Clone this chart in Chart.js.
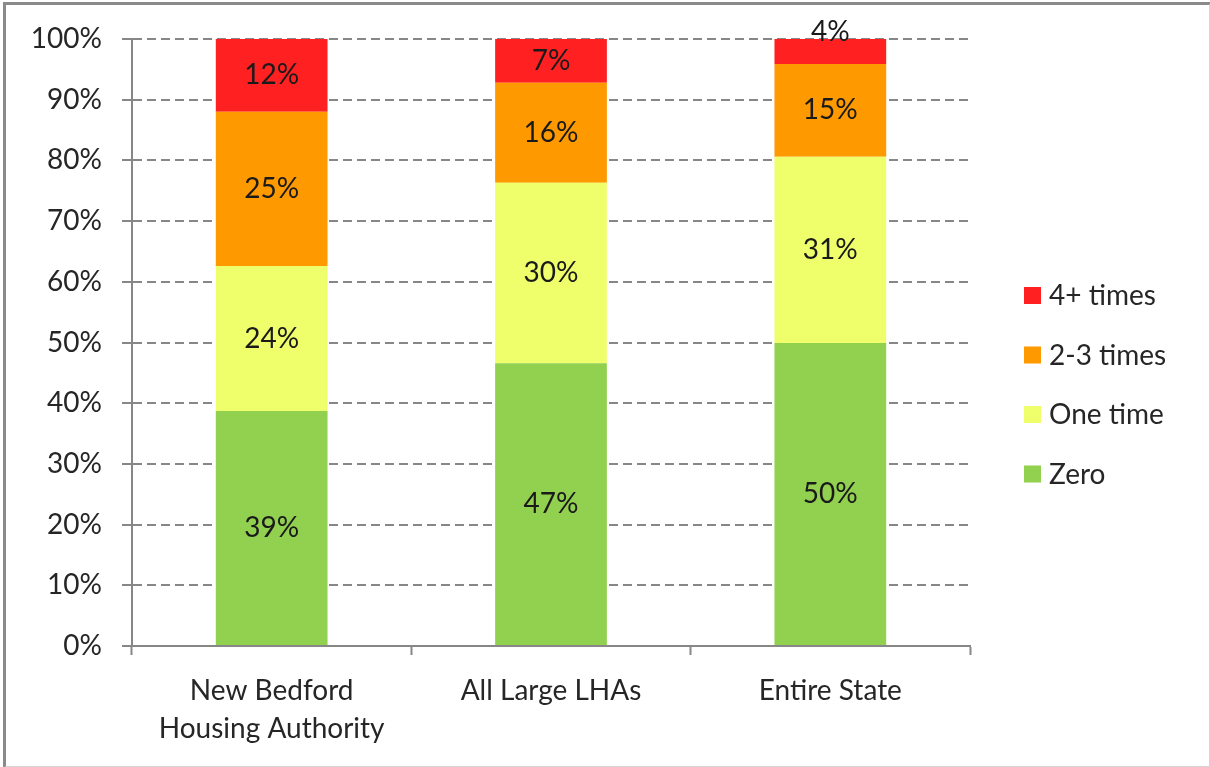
<!DOCTYPE html>
<html>
<head>
<meta charset="utf-8">
<script src="https://cdn.jsdelivr.net/npm/chart.js@4"></script>
<style>
  html, body { margin: 0; padding: 0; background: #fff; }
  #wrap { position: relative; width: 1210px; height: 767px; }
  #frame { position: absolute; left: 3px; top: 2px; width: 1203px; height: 761px;
           border-top: 3px solid #8a8a8a; border-left: 3px solid #8a8a8a;
           border-right: 2px solid #d4d4d4; border-bottom: 2px solid #d4d4d4; pointer-events: none; }
  canvas { position: absolute; left: 0; top: 0; }
</style>
</head>
<body>
<div id="wrap">
  <canvas id="chart" width="1210" height="767"></canvas>
  <div id="frame"></div>
</div>
<script>
// ----- Dados -----
const categorias = [["New Bedford", "Housing Authority"], "All Large LHAs", "Entire State"];
const zero = [38.7, 46.6, 49.9];
const umaVez = [23.9, 29.7, 30.7];
const duasTres = [25.4, 16.5, 15.3];
const quatroMais = [12.0, 7.2, 4.1];
const rotulos = {
  zero: ["39%", "47%", "50%"],
  umaVez: ["24%", "30%", "31%"],
  duasTres: ["25%", "16%", "15%"],
  quatroMais: ["12%", "7%", "4%"]
};
const ticksY = [0, 10, 20, 30, 40, 50, 60, 70, 80, 90, 100];

const fonte = "Lato, 'Open Sans', sans-serif";
const tamFonte = 28;
const corTexto = "#262626";
const corEixo = "#878787";

// rótulos dentro das barras
const rotulosPlugin = {
  id: "rotulos",
  afterDatasetsDraw(chart) {
    const ctx = chart.ctx;
    ctx.save();
    ctx.font = tamFonte + "px " + fonte;
    ctx.fillStyle = "#1a1a1a";
    ctx.textAlign = "center";
    ctx.textBaseline = "middle";
    chart.data.datasets.forEach((ds, i) => {
      chart.getDatasetMeta(i).data.forEach((bar, j) => {
        const h = bar.base - bar.y;
        let y = (bar.y + bar.base) / 2;
        if (h < 30) y = bar.y - 7;
        ctx.fillText(ds.rotulos[j], bar.x, y);
      });
    });
    ctx.restore();
  }
};

// legenda à direita
const legendaPlugin = {
  id: "legenda",
  afterDraw(chart) {
    const ctx = chart.ctx;
    const x = chart.chartArea.right + 54;
    let y = 296;
    ctx.save();
    ctx.font = tamFonte + "px " + fonte;
    ctx.textBaseline = "middle";
    ctx.textAlign = "left";
    chart.data.datasets.slice().reverse().forEach(ds => {
      ctx.fillStyle = ds.backgroundColor;
      ctx.fillRect(x, y - 9, 17, 17);
      ctx.fillStyle = corTexto;
      ctx.fillText(ds.label, x + 25, y);
      y += 59.5;
    });
    ctx.restore();
  }
};

new Chart(document.getElementById("chart"), {
  type: "bar",
  data: {
    labels: categorias,
    datasets: [
      { label: "Zero", data: zero, rotulos: rotulos.zero, backgroundColor: "#92D050" },
      { label: "One time", data: umaVez, rotulos: rotulos.umaVez, backgroundColor: "#EFFF6C" },
      { label: "2-3 times", data: duasTres, rotulos: rotulos.duasTres, backgroundColor: "#FF9900" },
      { label: "4+ times", data: quatroMais, rotulos: rotulos.quatroMais, backgroundColor: "#FF2121" }
    ]
  },
  options: {
    responsive: false,
    animation: false,
    devicePixelRatio: 1,
    datasets: { bar: { barPercentage: 0.4, categoryPercentage: 1.0, borderWidth: 0 } },
    layout: { padding: { left: 0, right: 240, top: 39, bottom: 0 } },
    plugins: { legend: { display: false }, tooltip: { enabled: false } },
    scales: {
      x: {
        stacked: true,
        afterFit: s => { s.height = 121; },
        grid: { display: true, offset: true, drawOnChartArea: false, drawTicks: true, tickLength: 9, tickColor: corEixo, tickWidth: 2 },
        border: { display: true, color: corEixo, width: 2 },
        ticks: { color: corTexto, font: { family: fonte, size: tamFonte, lineHeight: 1.36 }, padding: 17, maxRotation: 0 }
      },
      y: {
        stacked: true,
        min: 0,
        max: 100,
        afterFit: s => { s.width = 132; },
        afterBuildTicks: s => { s.ticks = ticksY.map(v => ({ value: v })); },
        grid: { color: corEixo, lineWidth: 2, drawTicks: true, tickLength: 10, tickColor: corEixo, tickWidth: 2 },
        border: { display: true, color: corEixo, width: 2, dash: [9, 5] },
        ticks: { color: corTexto, font: { family: fonte, size: tamFonte }, padding: 20, callback: v => v + "%" }
      }
    }
  },
  plugins: [rotulosPlugin, legendaPlugin]
});
</script>
</body>
</html>
